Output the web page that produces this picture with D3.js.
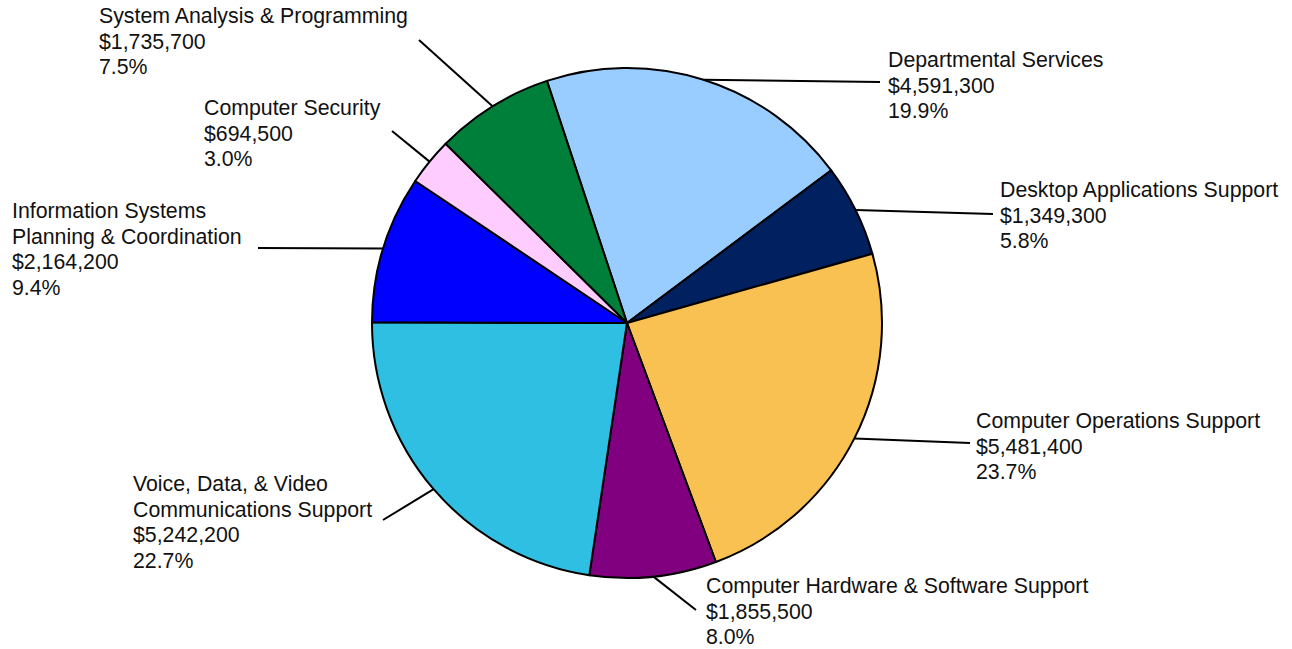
<!DOCTYPE html>
<html>
<head>
<meta charset="utf-8">
<script src="https://cdn.jsdelivr.net/npm/d3@7"></script>
<style>
  html, body { margin: 0; padding: 0; background: #ffffff; }
  svg { display: block; }
  text { font-family: "Liberation Sans", Arial, sans-serif; font-size: 21.3px; fill: #111; }
</style>
</head>
<body>
<svg id="chart" width="1292" height="649"></svg>
<script>
// ---- data ----
const categories = [
  "Departmental Services",
  "Desktop Applications Support",
  "Computer Operations Support",
  "Computer Hardware & Software Support",
  "Voice, Data, & Video\nCommunications Support",
  "Information Systems\nPlanning & Coordination",
  "Computer Security",
  "System Analysis & Programming"
];
const values = [4591300, 1349300, 5481400, 1855500, 5242200, 2164200, 694500, 1735700];
const colors = ["#99CCFF", "#002060", "#F9C152", "#800080", "#2EBFE2", "#0000FF", "#FFCCFF", "#007F3B"];

// ---- layout (label text origin and leader-line end) ----
const labelX    = [888, 1000, 976, 706, 133, 12, 204, 99];
const labelY    = [67, 197, 428, 593, 491, 218, 115, 23];
const lineEndX  = [880, 993, 970, 696, 383, 258, 392, 419];
const lineEndY  = [82, 214, 443, 610, 520, 248, 131, 40];

const cx = 627, cy = 323, radius = 255;
const startAngle = -18.3 * Math.PI / 180;
const lineHeight = 25.6;

const svg = d3.select("#chart");
const total = d3.sum(values);
const fmtMoney = v => "$" + d3.format(",")(v);
const fmtPct = v => d3.format(".1f")(v / total * 100) + "%";

const pie = d3.pie().sort(null).value(d => d)
  .startAngle(startAngle).endAngle(startAngle + 2 * Math.PI);
const arcs = pie(values);
const arc = d3.arc().innerRadius(0).outerRadius(radius);

const g = svg.append("g").attr("transform", `translate(${cx},${cy})`);
g.selectAll("path.slice").data(arcs).enter().append("path")
  .attr("class", "slice")
  .attr("d", arc)
  .attr("fill", (d, i) => colors[i])
  .attr("stroke", "#000")
  .attr("stroke-width", 2)
  .attr("stroke-linejoin", "round");

// leader lines
svg.selectAll("line.leader").data(arcs).enter().append("line")
  .attr("class", "leader")
  .attr("x1", d => cx + radius * Math.sin((d.startAngle + d.endAngle) / 2))
  .attr("y1", d => cy - radius * Math.cos((d.startAngle + d.endAngle) / 2))
  .attr("x2", (d, i) => lineEndX[i])
  .attr("y2", (d, i) => lineEndY[i])
  .attr("stroke", "#000")
  .attr("stroke-width", 2);

// labels
arcs.forEach((d, i) => {
  const lines = categories[i].split("\n").concat([fmtMoney(values[i]), fmtPct(values[i])]);
  const t = svg.append("text").attr("x", labelX[i]).attr("y", labelY[i]);
  lines.forEach((ln, k) => {
    t.append("tspan").attr("x", labelX[i]).attr("y", labelY[i] + k * lineHeight).text(ln);
  });
});
</script>
</body>
</html>
